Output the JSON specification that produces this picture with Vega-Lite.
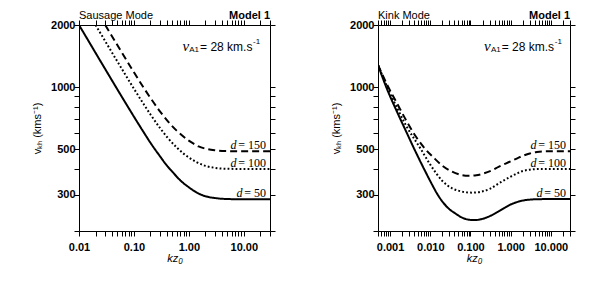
{
  "$schema": "https://vega.github.io/schema/vega-lite/v6.json",
  "padding": {"left": 31, "top": 9, "right": 5, "bottom": 5},
  "spacing": 54,
  "config": {
    "view": {"stroke": "black", "strokeWidth": 1},
    "font": "Liberation Sans",
    "text": {"color": "black"}
  },
  "datasets": {
    "sausage": [
      {"x": 0.01, "v": 2000, "d": 50}, {"x": 0.015, "v": 1668, "d": 50}, {"x": 0.02, "v": 1465, "d": 50}, {"x": 0.03, "v": 1222, "d": 50}, {"x": 0.05, "v": 973, "d": 50}, {"x": 0.07, "v": 839, "d": 50}, {"x": 0.1, "v": 718, "d": 50}, {"x": 0.15, "v": 604, "d": 50}, {"x": 0.2, "v": 536, "d": 50}, {"x": 0.3, "v": 460, "d": 50}, {"x": 0.4, "v": 415, "d": 50}, {"x": 0.5, "v": 388, "d": 50}, {"x": 0.7, "v": 352, "d": 50}, {"x": 1, "v": 326, "d": 50}, {"x": 1.4, "v": 307, "d": 50}, {"x": 2, "v": 295, "d": 50}, {"x": 3, "v": 289, "d": 50}, {"x": 5, "v": 286, "d": 50}, {"x": 10, "v": 285, "d": 50}, {"x": 30, "v": 285, "d": 50},
      {"x": 0.02, "v": 2000, "d": 100}, {"x": 0.03, "v": 1670, "d": 100}, {"x": 0.04, "v": 1468, "d": 100}, {"x": 0.06, "v": 1227, "d": 100}, {"x": 0.1, "v": 981, "d": 100}, {"x": 0.15, "v": 827, "d": 100}, {"x": 0.2, "v": 736, "d": 100}, {"x": 0.3, "v": 631, "d": 100}, {"x": 0.4, "v": 572, "d": 100}, {"x": 0.6, "v": 509, "d": 100}, {"x": 0.8, "v": 475, "d": 100}, {"x": 1, "v": 455, "d": 100}, {"x": 1.4, "v": 431, "d": 100}, {"x": 2, "v": 414, "d": 100}, {"x": 3, "v": 405, "d": 100}, {"x": 5, "v": 401, "d": 100}, {"x": 10, "v": 400, "d": 100}, {"x": 30, "v": 400, "d": 100},
      {"x": 0.03, "v": 2000, "d": 150}, {"x": 0.045, "v": 1673, "d": 150}, {"x": 0.06, "v": 1473, "d": 150}, {"x": 0.09, "v": 1234, "d": 150}, {"x": 0.15, "v": 993, "d": 150}, {"x": 0.2, "v": 885, "d": 150}, {"x": 0.3, "v": 760, "d": 150}, {"x": 0.45, "v": 665, "d": 150}, {"x": 0.6, "v": 614, "d": 150}, {"x": 0.9, "v": 560, "d": 150}, {"x": 1.2, "v": 532, "d": 150}, {"x": 1.5, "v": 515, "d": 150}, {"x": 2, "v": 502, "d": 150}, {"x": 3, "v": 493, "d": 150}, {"x": 4.5, "v": 489, "d": 150}, {"x": 8, "v": 488, "d": 150}, {"x": 30, "v": 488, "d": 150}
    ],
    "kink": [
      {"x": 0.0005, "v": 1280, "d": 50}, {"x": 0.0008, "v": 1000, "d": 50}, {"x": 0.0015, "v": 755, "d": 50}, {"x": 0.0025, "v": 609, "d": 50}, {"x": 0.004, "v": 500, "d": 50}, {"x": 0.006, "v": 425, "d": 50}, {"x": 0.008, "v": 380, "d": 50}, {"x": 0.011, "v": 337, "d": 50}, {"x": 0.015, "v": 302, "d": 50}, {"x": 0.02, "v": 278, "d": 50}, {"x": 0.03, "v": 255, "d": 50}, {"x": 0.04, "v": 245, "d": 50}, {"x": 0.06, "v": 233, "d": 50}, {"x": 0.09, "v": 227, "d": 50}, {"x": 0.13, "v": 226, "d": 50}, {"x": 0.2, "v": 229, "d": 50}, {"x": 0.3, "v": 236, "d": 50}, {"x": 0.45, "v": 246, "d": 50}, {"x": 0.7, "v": 259, "d": 50}, {"x": 1, "v": 269, "d": 50}, {"x": 1.5, "v": 277, "d": 50}, {"x": 2, "v": 281, "d": 50}, {"x": 3, "v": 284, "d": 50}, {"x": 5, "v": 285.5, "d": 50}, {"x": 30, "v": 286, "d": 50},
      {"x": 0.0005, "v": 1280, "d": 100}, {"x": 0.00085, "v": 1000, "d": 100}, {"x": 0.0015, "v": 790, "d": 100}, {"x": 0.0025, "v": 650, "d": 100}, {"x": 0.0058, "v": 500, "d": 100}, {"x": 0.01, "v": 420, "d": 100}, {"x": 0.02, "v": 350, "d": 100}, {"x": 0.035, "v": 322, "d": 100}, {"x": 0.05, "v": 314, "d": 100}, {"x": 0.08, "v": 308, "d": 100}, {"x": 0.11, "v": 307, "d": 100}, {"x": 0.18, "v": 310, "d": 100}, {"x": 0.3, "v": 320, "d": 100}, {"x": 0.5, "v": 340, "d": 100}, {"x": 1, "v": 367, "d": 100}, {"x": 1.5, "v": 382, "d": 100}, {"x": 2, "v": 391, "d": 100}, {"x": 3, "v": 397, "d": 100}, {"x": 5, "v": 400, "d": 100}, {"x": 30, "v": 400, "d": 100},
      {"x": 0.0005, "v": 1280, "d": 150}, {"x": 0.0009, "v": 1000, "d": 150}, {"x": 0.0015, "v": 830, "d": 150}, {"x": 0.0025, "v": 690, "d": 150}, {"x": 0.0045, "v": 570, "d": 150}, {"x": 0.0075, "v": 500, "d": 150}, {"x": 0.012, "v": 455, "d": 150}, {"x": 0.02, "v": 415, "d": 150}, {"x": 0.035, "v": 388, "d": 150}, {"x": 0.06, "v": 374, "d": 150}, {"x": 0.09, "v": 371, "d": 150}, {"x": 0.14, "v": 373, "d": 150}, {"x": 0.2, "v": 379, "d": 150}, {"x": 0.35, "v": 395, "d": 150}, {"x": 0.5, "v": 410, "d": 150}, {"x": 0.75, "v": 425, "d": 150}, {"x": 1, "v": 436, "d": 150}, {"x": 1.5, "v": 452, "d": 150}, {"x": 2, "v": 463, "d": 150}, {"x": 3, "v": 476, "d": 150}, {"x": 4.5, "v": 484, "d": 150}, {"x": 8, "v": 488, "d": 150}, {"x": 30, "v": 488, "d": 150}
    ]
  },
  "hconcat": [
    {
      "width": 191,
      "height": 206,
      "resolve": {"axis": {"x": "independent", "y": "independent"}},
      "layer": [
        {
          "data": {"name": "sausage"},
          "mark": {"type": "line", "clip": true, "color": "black", "strokeWidth": 2, "interpolate": "monotone"},
          "encoding": {
            "x": {"field": "x", "type": "quantitative", "scale": {"type": "log", "domain": [0.01, 30], "nice": false},
              "axis": {"orient": "bottom", "values": [0.01,0.02,0.03,0.04,0.05,0.06,0.07,0.08,0.09,0.1,0.2,0.3,0.4,0.5,0.6,0.7,0.8,0.9,1,2,3,4,5,6,7,8,9,10,20,30],
                "labelExpr": "indexof([0.01,0.1,1,10], datum.value) >= 0 ? format(datum.value, '.2f') : ''",
                "tickSize": 5,
                "encode": {"ticks": {"update": {"y2": {"signal": "indexof([0.01,0.1,1,10], datum.value) >= 0 ? 6 : 3"}}}},
                "labelPadding": 5, "labelFontWeight": "bold", "labelFontSize": 11, "labelColor": "black", "tickColor": "black", "domain": false, "grid": false,
                "labelOverlap": false, "labelFlush": false,
                "title": "kz₀", "titleFontStyle": "italic", "titleFontWeight": "normal", "titleFontSize": 11, "titlePadding": 0, "titleColor": "black"}},
            "y": {"field": "v", "type": "quantitative", "scale": {"type": "log", "domain": [200, 2000], "nice": false},
              "axis": {"orient": "left", "values": [200,300,400,500,600,700,800,900,1000,2000],
                "labelExpr": "indexof([300,500,1000,2000], datum.value) >= 0 ? datum.value : ''",
                "tickSize": 5,
                "encode": {"ticks": {"update": {"x2": {"signal": "indexof([300,500,1000,2000], datum.value) >= 0 ? -5 : -3"}}}},
                "labelPadding": -1, "labelFontWeight": "bold", "labelFontSize": 11, "labelColor": "black", "tickColor": "black", "domain": false, "grid": false,
                "labelOverlap": false, "labelFlush": false,
                "title": "vₖₕ (kms⁻¹)", "titleFontWeight": "normal", "titleFontSize": 11, "titlePadding": 8, "titleColor": "black"}},
            "strokeDash": {"field": "d", "type": "ordinal", "scale": {"domain": [50, 100, 150], "range": [[1, 0], [1.8, 2.2], [7, 4]]}, "legend": null}
          }
        },
        {
          "data": {"name": "sausage"},
          "transform": [{"filter": "datum.x == 30"}, {"calculate": "'= ' + datum.d", "as": "lab"}],
          "mark": {"type": "text", "align": "right", "baseline": "alphabetic", "dx": -4, "dy": -2, "font": "Liberation Serif", "fontSize": 12},
          "encoding": {
            "x": {"field": "x", "type": "quantitative",
              "axis": {"orient": "top", "values": [0.01,0.02,0.03,0.04,0.05,0.06,0.07,0.08,0.09,0.1,0.2,0.3,0.4,0.5,0.6,0.7,0.8,0.9,1,2,3,4,5,6,7,8,9,10,20,30],
                "labels": false, "domain": false, "grid": false, "title": null, "tickColor": "black", "tickSize": 5,
                "encode": {"ticks": {"update": {"y2": {"signal": "indexof([0.01,0.1,1,10], datum.value) >= 0 ? -6 : -3"}}}}}},
            "y": {"field": "v", "type": "quantitative",
              "axis": {"orient": "right", "values": [200,300,400,500,600,700,800,900,1000,2000],
                "labels": false, "domain": false, "grid": false, "title": null, "tickColor": "black", "tickSize": 5,
                "encode": {"ticks": {"update": {"x2": {"signal": "indexof([300,500,1000,2000], datum.value) >= 0 ? 5 : 3"}}}}}},
            "text": {"field": "lab"}
          }
        },
        {
          "data": {"name": "sausage"},
          "transform": [{"filter": "datum.x == 30 && datum.d != 50"}],
          "mark": {"type": "text", "text": "d", "align": "right", "baseline": "alphabetic", "dx": -33.5, "dy": -2, "font": "Liberation Serif", "fontStyle": "italic", "fontSize": 12},
          "encoding": {"x": {"field": "x", "type": "quantitative", "axis": null}, "y": {"field": "v", "type": "quantitative", "axis": null}}
        },
        {
          "data": {"name": "sausage"},
          "transform": [{"filter": "datum.x == 30 && datum.d == 50"}],
          "mark": {"type": "text", "text": "d", "align": "right", "baseline": "alphabetic", "dx": -27.5, "dy": -2, "font": "Liberation Serif", "fontStyle": "italic", "fontSize": 12},
          "encoding": {"x": {"field": "x", "type": "quantitative", "axis": null}, "y": {"field": "v", "type": "quantitative", "axis": null}}
        },
        {
          "data": {"values": [{}]},
          "mark": {"type": "text", "text": "Sausage Mode", "align": "left", "baseline": "alphabetic", "dy": -6, "fontSize": 11},
          "encoding": {"x": {"datum": 0.01, "type": "quantitative", "axis": null}, "y": {"datum": 2000, "type": "quantitative", "axis": null}}
        },
        {
          "data": {"values": [{}]},
          "mark": {"type": "text", "text": "Model 1", "align": "right", "baseline": "alphabetic", "dy": -6, "fontSize": 11, "fontWeight": "bold"},
          "encoding": {"x": {"datum": 30, "type": "quantitative", "axis": null}, "y": {"datum": 2000, "type": "quantitative", "axis": null}}
        },
        {
          "data": {"values": [{}]},
          "mark": {"type": "text", "text": "= 28 km.s", "align": "left", "baseline": "middle", "fontSize": 12},
          "encoding": {"x": {"datum": 1.6, "type": "quantitative", "axis": null}, "y": {"datum": 1565, "type": "quantitative", "axis": null}}
        },
        {
          "data": {"values": [{}]},
          "mark": {"type": "text", "text": "-1", "align": "left", "baseline": "middle", "dx": 53, "dy": -5, "fontSize": 8},
          "encoding": {"x": {"datum": 1.6, "type": "quantitative", "axis": null}, "y": {"datum": 1565, "type": "quantitative", "axis": null}}
        },
        {
          "data": {"values": [{}]},
          "mark": {"type": "text", "text": "A1", "align": "right", "baseline": "middle", "dx": -1, "dy": 3, "fontSize": 8},
          "encoding": {"x": {"datum": 1.6, "type": "quantitative", "axis": null}, "y": {"datum": 1565, "type": "quantitative", "axis": null}}
        },
        {
          "data": {"values": [{}]},
          "mark": {"type": "text", "text": "v", "align": "right", "baseline": "middle", "dx": -11, "dy": -1, "font": "Liberation Serif", "fontStyle": "italic", "fontSize": 15},
          "encoding": {"x": {"datum": 1.6, "type": "quantitative", "axis": null}, "y": {"datum": 1565, "type": "quantitative", "axis": null}}
        }
      ]
    },
    {
      "width": 192,
      "height": 206,
      "resolve": {"axis": {"x": "independent", "y": "independent"}},
      "layer": [
        {
          "data": {"name": "kink"},
          "mark": {"type": "line", "clip": true, "color": "black", "strokeWidth": 2, "interpolate": "monotone"},
          "encoding": {
            "x": {"field": "x", "type": "quantitative", "scale": {"type": "log", "domain": [0.0005, 30], "nice": false},
              "axis": {"orient": "bottom", "values": [0.0005,0.0006,0.0007,0.0008,0.0009,0.001,0.002,0.003,0.004,0.005,0.006,0.007,0.008,0.009,0.01,0.02,0.03,0.04,0.05,0.06,0.07,0.08,0.09,0.1,0.2,0.3,0.4,0.5,0.6,0.7,0.8,0.9,1,2,3,4,5,6,7,8,9,10,20,30],
                "labelExpr": "indexof([0.001,0.01,0.1,1,10], datum.value) >= 0 ? format(datum.value, '.3f') : ''",
                "tickSize": 5,
                "encode": {"ticks": {"update": {"y2": {"signal": "indexof([0.001,0.01,0.1,1,10], datum.value) >= 0 ? 6 : 3"}}}},
                "labelPadding": 5, "labelFontWeight": "bold", "labelFontSize": 11, "labelColor": "black", "tickColor": "black", "domain": false, "grid": false,
                "labelOverlap": false, "labelFlush": false,
                "title": "kz₀", "titleFontStyle": "italic", "titleFontWeight": "normal", "titleFontSize": 11, "titlePadding": 0, "titleColor": "black"}},
            "y": {"field": "v", "type": "quantitative", "scale": {"type": "log", "domain": [200, 2000], "nice": false},
              "axis": {"orient": "left", "values": [200,300,400,500,600,700,800,900,1000,2000],
                "labelExpr": "indexof([300,500,1000,2000], datum.value) >= 0 ? datum.value : ''",
                "tickSize": 5,
                "encode": {"ticks": {"update": {"x2": {"signal": "indexof([300,500,1000,2000], datum.value) >= 0 ? -5 : -3"}}}},
                "labelPadding": -1, "labelFontWeight": "bold", "labelFontSize": 11, "labelColor": "black", "tickColor": "black", "domain": false, "grid": false,
                "labelOverlap": false, "labelFlush": false,
                "title": "vₖₕ (kms⁻¹)", "titleFontWeight": "normal", "titleFontSize": 11, "titlePadding": 8, "titleColor": "black"}},
            "strokeDash": {"field": "d", "type": "ordinal", "scale": {"domain": [50, 100, 150], "range": [[1, 0], [1.8, 2.2], [7, 4]]}, "legend": null}
          }
        },
        {
          "data": {"name": "kink"},
          "transform": [{"filter": "datum.x == 30"}, {"calculate": "'= ' + datum.d", "as": "lab"}],
          "mark": {"type": "text", "align": "right", "baseline": "alphabetic", "dx": -4, "dy": -2, "font": "Liberation Serif", "fontSize": 12},
          "encoding": {
            "x": {"field": "x", "type": "quantitative",
              "axis": {"orient": "top", "values": [0.0005,0.0006,0.0007,0.0008,0.0009,0.001,0.002,0.003,0.004,0.005,0.006,0.007,0.008,0.009,0.01,0.02,0.03,0.04,0.05,0.06,0.07,0.08,0.09,0.1,0.2,0.3,0.4,0.5,0.6,0.7,0.8,0.9,1,2,3,4,5,6,7,8,9,10,20,30],
                "labels": false, "domain": false, "grid": false, "title": null, "tickColor": "black", "tickSize": 5,
                "encode": {"ticks": {"update": {"y2": {"signal": "indexof([0.001,0.01,0.1,1,10], datum.value) >= 0 ? -6 : -3"}}}}}},
            "y": {"field": "v", "type": "quantitative",
              "axis": {"orient": "right", "values": [200,300,400,500,600,700,800,900,1000,2000],
                "labels": false, "domain": false, "grid": false, "title": null, "tickColor": "black", "tickSize": 5,
                "encode": {"ticks": {"update": {"x2": {"signal": "indexof([300,500,1000,2000], datum.value) >= 0 ? 5 : 3"}}}}}},
            "text": {"field": "lab"}
          }
        },
        {
          "data": {"name": "kink"},
          "transform": [{"filter": "datum.x == 30 && datum.d != 50"}],
          "mark": {"type": "text", "text": "d", "align": "right", "baseline": "alphabetic", "dx": -33.5, "dy": -2, "font": "Liberation Serif", "fontStyle": "italic", "fontSize": 12},
          "encoding": {"x": {"field": "x", "type": "quantitative", "axis": null}, "y": {"field": "v", "type": "quantitative", "axis": null}}
        },
        {
          "data": {"name": "kink"},
          "transform": [{"filter": "datum.x == 30 && datum.d == 50"}],
          "mark": {"type": "text", "text": "d", "align": "right", "baseline": "alphabetic", "dx": -27.5, "dy": -2, "font": "Liberation Serif", "fontStyle": "italic", "fontSize": 12},
          "encoding": {"x": {"field": "x", "type": "quantitative", "axis": null}, "y": {"field": "v", "type": "quantitative", "axis": null}}
        },
        {
          "data": {"values": [{}]},
          "mark": {"type": "text", "text": "Kink Mode", "align": "left", "baseline": "alphabetic", "dy": -6, "fontSize": 11},
          "encoding": {"x": {"datum": 0.0005, "type": "quantitative", "axis": null}, "y": {"datum": 2000, "type": "quantitative", "axis": null}}
        },
        {
          "data": {"values": [{}]},
          "mark": {"type": "text", "text": "Model 1", "align": "right", "baseline": "alphabetic", "dy": -6, "fontSize": 11, "fontWeight": "bold"},
          "encoding": {"x": {"datum": 30, "type": "quantitative", "axis": null}, "y": {"datum": 2000, "type": "quantitative", "axis": null}}
        },
        {
          "data": {"values": [{}]},
          "mark": {"type": "text", "text": "= 28 km.s", "align": "left", "baseline": "middle", "fontSize": 12},
          "encoding": {"x": {"datum": 0.6, "type": "quantitative", "axis": null}, "y": {"datum": 1565, "type": "quantitative", "axis": null}}
        },
        {
          "data": {"values": [{}]},
          "mark": {"type": "text", "text": "-1", "align": "left", "baseline": "middle", "dx": 53, "dy": -5, "fontSize": 8},
          "encoding": {"x": {"datum": 0.6, "type": "quantitative", "axis": null}, "y": {"datum": 1565, "type": "quantitative", "axis": null}}
        },
        {
          "data": {"values": [{}]},
          "mark": {"type": "text", "text": "A1", "align": "right", "baseline": "middle", "dx": -1, "dy": 3, "fontSize": 8},
          "encoding": {"x": {"datum": 0.6, "type": "quantitative", "axis": null}, "y": {"datum": 1565, "type": "quantitative", "axis": null}}
        },
        {
          "data": {"values": [{}]},
          "mark": {"type": "text", "text": "v", "align": "right", "baseline": "middle", "dx": -11, "dy": -1, "font": "Liberation Serif", "fontStyle": "italic", "fontSize": 15},
          "encoding": {"x": {"datum": 0.6, "type": "quantitative", "axis": null}, "y": {"datum": 1565, "type": "quantitative", "axis": null}}
        }
      ]
    }
  ]
}
